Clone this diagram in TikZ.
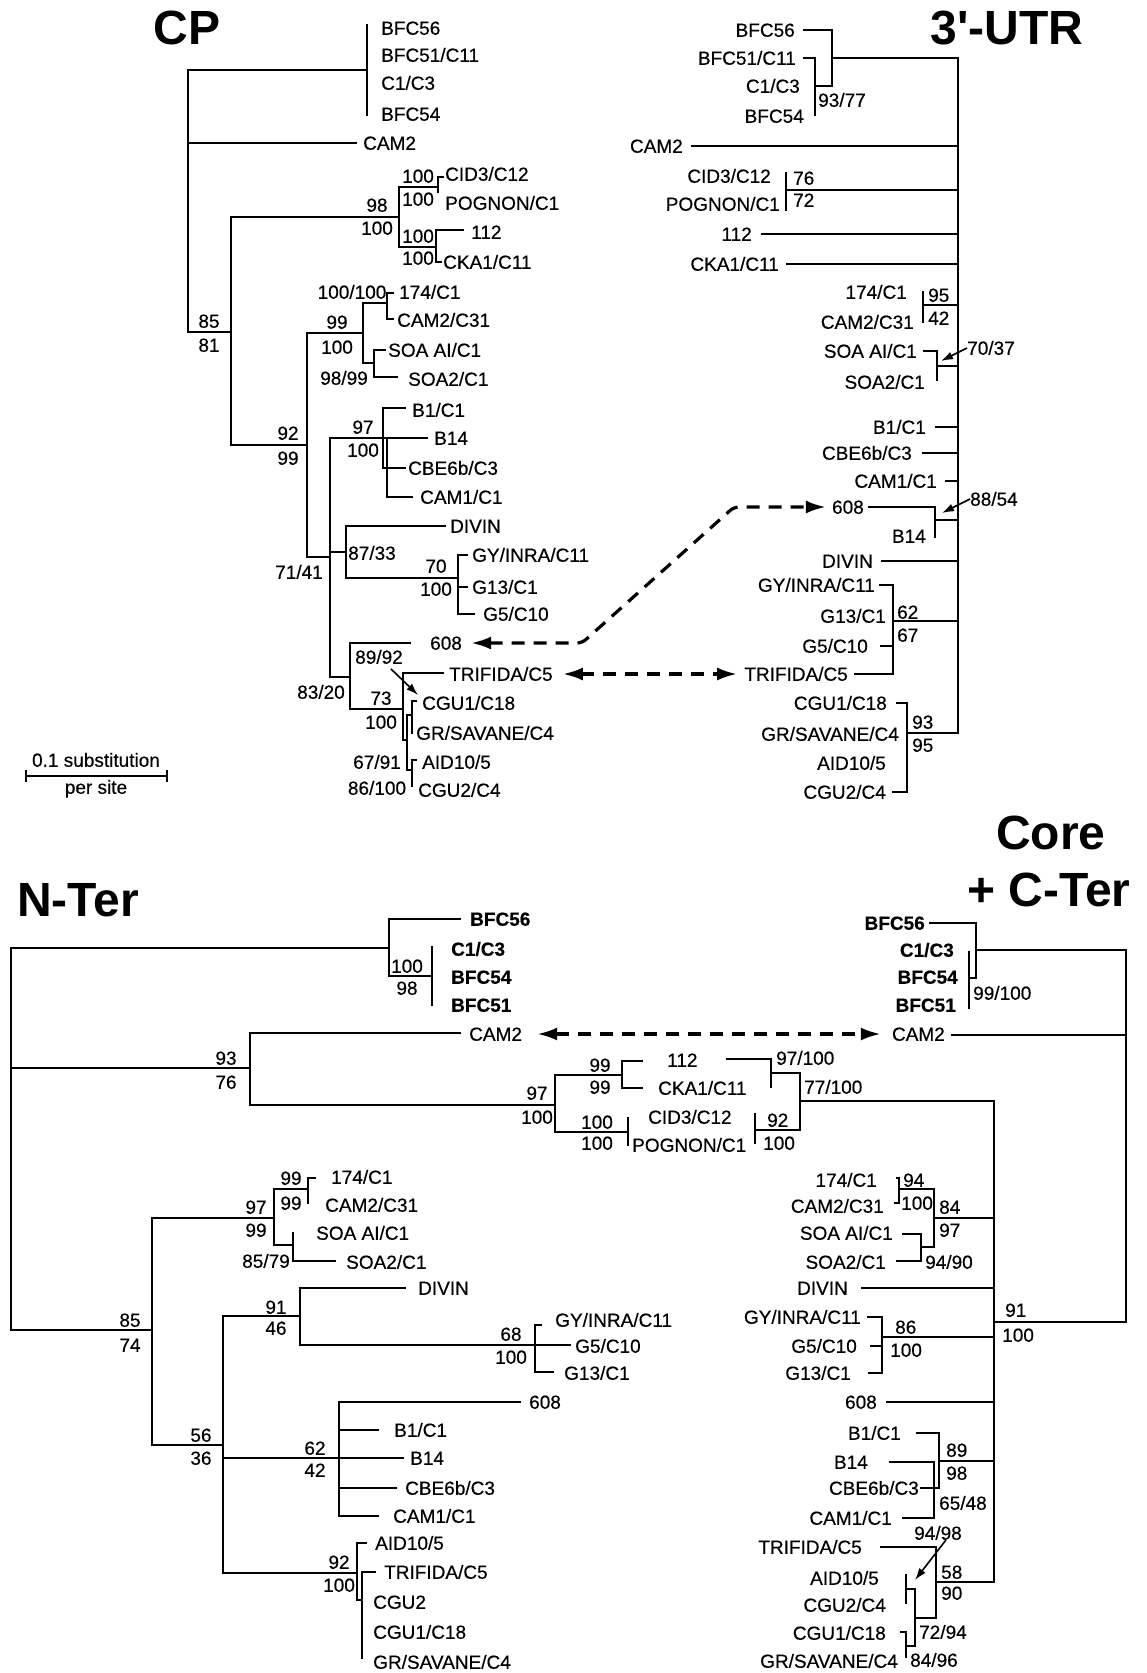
\documentclass[tikz,border=0pt]{standalone}
\usepackage{fontspec}
\setmainfont{Liberation Sans}
\newfontfamily\escaneo{Liberation Sans}[FakeBold=0.4]
\usetikzlibrary{arrows.meta}
\colorlet{colLinea}{black}
\newcommand{\fuenteTaxon}{\escaneo\fontsize{19}{21}\selectfont}
\newcommand{\fuenteTitulo}{\fontsize{48}{52}\selectfont\bfseries}
\tikzset{
  rama/.style={draw=colLinea, line width=2.5pt, line cap=rect},
  taxon/.style={font=\fuenteTaxon, inner sep=0pt, text height=13.5pt, text depth=0pt},
  taxonIzq/.style={taxon, anchor=west},
  taxonDer/.style={taxon, anchor=east},
  negrita/.style={font=\fuenteTaxon\bfseries},
  soporte/.style={taxon},
  soporteIzq/.style={taxon, anchor=west},
  titulo/.style={font=\fuenteTitulo, inner sep=0pt},
  flechaDoble/.style={{Latex[length=20pt,width=13pt]}-{Latex[length=20pt,width=13pt]},
    line width=3.2pt, dash pattern=on 13pt off 9pt, rounded corners=5pt},
  flechaFina/.style={-{Latex[length=12pt,width=8pt]}, line width=1.6pt},
}

\begin{document}
\begin{tikzpicture}[x=1pt, y=-1pt]
  \fill[white] (0,0) rectangle (1146,1673);
  \useasboundingbox (0,0) rectangle (1146,1673);

  % ---------------- CP
  \node[titulo] (tCP) at (187,28) {CP};
  \draw[rama] (367,25) -- (367,115);
  \draw[rama] (367,70) -- (188,70) -- (188,332) -- (231,332);
  \draw[rama] (188,143) -- (356,143);
  \draw[rama] (231,217) -- (231,445);
  \draw[rama] (231,217) -- (399,217);
  \draw[rama] (399,187) -- (399,247);
  \draw[rama] (399,187) -- (438,187);
  \draw[rama] (443,177) -- (438,177) -- (438,192);
  \draw[rama] (399,247) -- (436,247);
  \draw[rama] (463,230) -- (436,230) -- (436,262) -- (441,262);
  \draw[rama] (231,445) -- (307,445);
  \draw[rama] (307,333) -- (307,557) -- (330,557);
  \draw[rama] (307,333) -- (363,333);
  \draw[rama] (363,303) -- (363,363);
  \draw[rama] (363,303) -- (387,303);
  \draw[rama] (393,293) -- (387,293) -- (387,319) -- (393,319);
  \draw[rama] (363,363) -- (374,363);
  \draw[rama] (385,350) -- (374,350) -- (374,377) -- (397,377);
  \draw[rama] (330,438) -- (330,677);
  \draw[rama] (330,438) -- (427,438);
  \draw[rama] (405,408) -- (383,408) -- (383,468) -- (405,468);
  \draw[rama] (387,438) -- (387,497) -- (412,497);
  \draw[rama] (330,552) -- (346,552);
  \draw[rama] (445,526) -- (346,526) -- (346,578) -- (458,578);
  \draw[rama] (467,555) -- (458,555) -- (458,614) -- (474,614);
  \draw[rama] (458,587) -- (467,587);
  \draw[rama] (330,677) -- (350,677);
  \draw[rama] (410,643) -- (350,643) -- (350,709) -- (403,709);
  \draw[rama] (443,673) -- (403,673) -- (403,740) -- (407,740);
  \draw[rama] (412,715) -- (407,715) -- (407,770) -- (412,770);
  \draw[rama] (416,701) -- (412,701) -- (412,733);
  \draw[rama] (416,760) -- (412,760) -- (412,786);
  \foreach \x/\y/\n/\t in {381/28/cpA/BFC56, 381/55/cpB/{BFC51/C11}, 381/83/cpC/{C1/C3},
      381/114/cpD/BFC54, 363/143/cpE/CAM2, 445/174/cpF/{CID3/C12}, 445/203/cpG/{POGNON/C1},
      471/232/cpH/112, 443/262/cpI/{CKA1/C11}, 399/292/cpJ/{174/C1}, 397/320/cpK/{CAM2/C31},
      388/350/cpL/{SOA AI/C1}, 408/379/cpM/{SOA2/C1}, 412/410/cpN/{B1/C1}, 434/438/cpO/B14,
      408/468/cpP/{CBE6b/C3}, 420/497/cpQ/{CAM1/C1}, 450/526/cpR/DIVIN, 472/555/cpS/{GY/INRA/C11},
      472/587/cpT/{G13/C1}, 483/614/cpU/{G5/C10}, 430/643/cp608/608, 449/674/cpTri/{TRIFIDA/C5},
      422/703/cpV/{CGU1/C18}, 416/733/cpW/{GR/SAVANE/C4}, 422/762/cpX/{AID10/5}, 418/790/cpY/{CGU2/C4}}
    \node[taxonIzq] (\n) at (\x,\y) {\t};
  \foreach \x/\y/\t [count=\i] in {209/321/85, 209/345/81, 377/205/98, 377/228/100, 418/176/100,
      418/199/100, 418/236/100, 418/258/100, 352/292/{100/100}, 337/322/99, 337/347/100,
      344/378/{98/99}, 288/433/92, 288/458/99, 363/427/97, 363/450/100, 299/572/{71/41},
      372/553/{87/33}, 436/566/70, 436/589/100, 321/692/{83/20}, 379/657/{89/92}, 381/698/73,
      381/722/100, 377/762/{67/91}, 377/788/{86/100}}
    \node[soporte] (cpS\i) at (\x,\y) {\t};
  \draw[flechaFina] ([xshift=-12pt,yshift=-5pt]cpS22.south east) -- (418,695);
  % scale bar
  \draw[line width=1.8pt] (26,770) -- (26,782) (26,776) -- (167,776) (167,770) -- (167,782);
  \node[taxon] (escalaA) at (96,760) {0.1 substitution};
  \node[taxon] (escalaB) at (96,787) {per site};

  % ---------------- 3'-UTR
  \node[titulo] (tUTR) at (1007,28) {3\textquotesingle-UTR};
  \draw[rama] (958,58) -- (958,733);
  \draw[rama] (958,58) -- (832,58);
  \draw[rama] (804,30) -- (832,30) -- (832,86) -- (815,86);
  \draw[rama] (804,58) -- (815,58) -- (815,115);
  \draw[rama] (958,146) -- (692,146);
  \draw[rama] (958,190) -- (786,190);
  \draw[rama] (786,173) -- (786,210);
  \draw[rama] (958,234) -- (762,234);
  \draw[rama] (958,264) -- (787,264);
  \draw[rama] (958,305) -- (923,305);
  \draw[rama] (923,292) -- (923,322);
  \draw[rama] (958,366) -- (937,366);
  \draw[rama] (924,351) -- (937,351) -- (937,380);
  \draw[rama] (958,427) -- (936,427);
  \draw[rama] (958,453) -- (923,453);
  \draw[rama] (958,481) -- (946,481);
  \draw[rama] (958,520) -- (935,520);
  \draw[rama] (869,507) -- (935,507) -- (935,537);
  \draw[rama] (958,561) -- (882,561);
  \draw[rama] (958,621) -- (893,621);
  \draw[rama] (880,585) -- (893,585) -- (893,674) -- (855,674);
  \draw[rama] (881,646) -- (893,646);
  \draw[rama] (958,733) -- (907,733);
  \draw[rama] (897,703) -- (907,703) -- (907,792) -- (893,792);
  \foreach \x/\y/\n/\t in {795/30/utA/BFC56, 796/58/utB/{BFC51/C11}, 800/86/utC/{C1/C3},
      804/116/utD/BFC54, 683/146/utE/CAM2, 771/176/utF/{CID3/C12}, 780/204/utG/{POGNON/C1},
      752/234/utH/112, 779/264/utI/{CKA1/C11}, 907/292/utJ/{174/C1}, 914/322/utK/{CAM2/C31},
      917/351/utL/{SOA AI/C1}, 925/382/utM/{SOA2/C1}, 926/427/utN/{B1/C1}, 912/453/utO/{CBE6b/C3},
      937/481/utP/{CAM1/C1}, 864/507/ut608/608, 926/536/utQ/B14, 873/561/utR/DIVIN,
      875/585/utS/{GY/INRA/C11}, 886/616/utT/{G13/C1}, 868/646/utU/{G5/C10},
      848/674/utTri/{TRIFIDA/C5}, 887/703/utV/{CGU1/C18}, 899/734/utW/{GR/SAVANE/C4},
      886/763/utX/{AID10/5}, 886/792/utY/{CGU2/C4}}
    \node[taxonDer] (\n) at (\x,\y) {\t};
  \foreach \x/\y/\t [count=\i] in {818/100/{93/77}, 793/178/76, 793/200/72, 928/295/95,
      928/318/42, 967/348/{70/37}, 970/499/{88/54}, 897/612/62, 897/635/67, 912/722/93, 912/745/95}
    \node[soporteIzq] (utS\i) at (\x,\y) {\t};
  \draw[flechaFina] (utS6.west) -- (941,361);
  \draw[flechaFina] (utS7.west) -- (942,513);

  % links between CP and 3'-UTR
  \draw[flechaDoble] ([xshift=9pt]cp608.east) -- (582,643) -- (734,507) -- ([xshift=-6pt]ut608.west);
  \draw[flechaDoble] ([xshift=10pt]cpTri.east) -- ([xshift=-7pt]utTri.west);

  % ---------------- N-Ter
  \node[titulo] (tNT) at (78,900) {N-Ter};
  \draw[rama] (389,948) -- (11,948) -- (11,1330) -- (152,1330);
  \draw[rama] (11,1068) -- (250,1068);
  \draw[rama] (460,919) -- (389,919) -- (389,976) -- (432,976);
  \draw[rama] (432,947) -- (432,1005);
  \draw[rama] (460,1033) -- (250,1033) -- (250,1105) -- (555,1105);
  \draw[rama] (555,1075) -- (555,1132);
  \draw[rama] (555,1075) -- (622,1075);
  \draw[rama] (642,1061) -- (622,1061) -- (622,1088) -- (642,1088);
  \draw[rama] (555,1132) -- (628,1132);
  \draw[rama] (628,1118) -- (628,1145);
  \draw[rama] (152,1218) -- (152,1445) -- (223,1445);
  \draw[rama] (152,1218) -- (274,1218);
  \draw[rama] (274,1189) -- (274,1245) -- (293,1245);
  \draw[rama] (274,1189) -- (308,1189);
  \draw[rama] (315,1178) -- (308,1178) -- (308,1203);
  \draw[rama] (293,1233) -- (293,1261) -- (335,1261);
  \draw[rama] (223,1316) -- (223,1573);
  \draw[rama] (223,1316) -- (300,1316);
  \draw[rama] (405,1288) -- (300,1288) -- (300,1345) -- (570,1345);
  \draw[rama] (541,1325) -- (535,1325) -- (535,1372) -- (553,1372);
  \draw[rama] (223,1458) -- (403,1458);
  \draw[rama] (520,1402) -- (339,1402) -- (339,1516) -- (378,1516);
  \draw[rama] (339,1430) -- (378,1430);
  \draw[rama] (339,1488) -- (396,1488);
  \draw[rama] (223,1573) -- (357,1573);
  \draw[rama] (366,1543) -- (357,1543) -- (357,1600) -- (362,1600);
  \draw[rama] (375,1572) -- (362,1572) -- (362,1658);
  \foreach \x/\y/\n/\t in {470/919/ntA/BFC56, 451/949/ntB/{C1/C3}, 451/977/ntC/BFC54, 451/1005/ntD/BFC51}
    \node[taxonIzq, negrita] (\n) at (\x,\y) {\t};
  \foreach \x/\y/\n/\t in {469/1034/ntE/CAM2, 667/1060/ntF/112, 658/1088/ntG/{CKA1/C11},
      648/1117/ntH/{CID3/C12}, 632/1145/ntI/{POGNON/C1}, 331/1177/ntJ/{174/C1},
      325/1205/ntK/{CAM2/C31}, 316/1233/ntL/{SOA AI/C1}, 346/1262/ntM/{SOA2/C1},
      418/1288/ntN/DIVIN, 555/1320/ntO/{GY/INRA/C11}, 575/1346/ntP/{G5/C10}, 564/1373/ntQ/{G13/C1},
      529/1402/ntR/608, 394/1430/ntS/{B1/C1}, 410/1458/ntT/B14, 405/1488/ntU/{CBE6b/C3},
      393/1516/ntV/{CAM1/C1}, 375/1543/ntW/{AID10/5}, 384/1572/ntX/{TRIFIDA/C5},
      373/1602/ntY/CGU2, 373/1632/ntZ/{CGU1/C18}, 373/1662/ntAA/{GR/SAVANE/C4}}
    \node[taxonIzq] (\n) at (\x,\y) {\t};
  \foreach \x/\y/\t [count=\i] in {407/966/100, 407/988/98, 226/1058/93, 226/1082/76,
      537/1093/97, 537/1117/100, 600/1065/99, 600/1087/99, 597/1122/100, 597/1143/100,
      291/1178/99, 291/1203/99, 256/1207/97, 256/1230/99, 266/1261/{85/79}, 130/1320/85,
      130/1345/74, 201/1435/56, 201/1458/36, 276/1307/91, 276/1328/46, 511/1334/68,
      511/1357/100, 315/1448/62, 315/1470/42, 339/1562/92, 339/1585/100}
    \node[soporte] (ntS\i) at (\x,\y) {\t};

  % ---------------- Core + C-Ter
  \node[titulo] (tCoreA) at (1051,833) {Core};
  \node[titulo] (tCoreB) at (1049,890) {+ C-Ter};
  \draw[rama] (1126,950) -- (1126,1322) -- (994,1322);
  \draw[rama] (1126,950) -- (976,950);
  \draw[rama] (930,923) -- (976,923) -- (976,978) -- (969,978);
  \draw[rama] (969,952) -- (969,1008);
  \draw[rama] (1126,1035) -- (952,1035);
  \draw[rama] (727,1059) -- (771,1059) -- (771,1087);
  \draw[rama] (771,1073) -- (800,1073) -- (800,1130) -- (755,1130);
  \draw[rama] (755,1114) -- (755,1143);
  \draw[rama] (800,1101) -- (994,1101) -- (994,1582);
  \draw[rama] (897,1178) -- (899,1178) -- (899,1203) -- (895,1203);
  \draw[rama] (899,1189) -- (934,1189) -- (934,1247) -- (921,1247);
  \draw[rama] (934,1218) -- (994,1218);
  \draw[rama] (903,1234) -- (921,1234) -- (921,1261) -- (897,1261);
  \draw[rama] (862,1288) -- (994,1288);
  \draw[rama] (868,1317) -- (882,1317) -- (882,1373) -- (869,1373);
  \draw[rama] (871,1346) -- (882,1346);
  \draw[rama] (882,1337) -- (994,1337);
  \draw[rama] (887,1402) -- (994,1402);
  \draw[rama] (917,1433) -- (939,1433) -- (939,1488) -- (921,1488);
  \draw[rama] (890,1462) -- (934,1462) -- (934,1518) -- (903,1518);
  \draw[rama] (939,1461) -- (994,1461);
  \draw[rama] (881,1547) -- (936,1547) -- (936,1618) -- (915,1618);
  \draw[rama] (936,1582) -- (994,1582);
  \draw[rama] (906,1589) -- (915,1589) -- (915,1646) -- (906,1646);
  \draw[rama] (906,1575) -- (906,1603);
  \draw[rama] (901,1632) -- (906,1632) -- (906,1657);
  \foreach \x/\y/\n/\t in {925/923/coA/BFC56, 954/950/coB/{C1/C3}, 958/977/coC/BFC54, 956/1005/coD/BFC51}
    \node[taxonDer, negrita] (\n) at (\x,\y) {\t};
  \foreach \x/\y/\n/\t in {945/1034/coE/CAM2, 877/1180/coF/{174/C1}, 884/1206/coG/{CAM2/C31},
      893/1233/coH/{SOA AI/C1}, 886/1262/coI/{SOA2/C1}, 848/1288/coJ/DIVIN,
      861/1317/coK/{GY/INRA/C11}, 857/1346/coL/{G5/C10}, 851/1373/coM/{G13/C1}, 877/1402/coN/608,
      901/1433/coO/{B1/C1}, 868/1462/coP/B14, 919/1488/coQ/{CBE6b/C3}, 892/1518/coR/{CAM1/C1},
      862/1547/coS/{TRIFIDA/C5}, 879/1578/coT/{AID10/5}, 886/1605/coU/{CGU2/C4},
      886/1633/coV/{CGU1/C18}, 898/1661/coW/{GR/SAVANE/C4}}
    \node[taxonDer] (\n) at (\x,\y) {\t};
  \foreach \x/\y/\t [count=\i] in {973/993/{99/100}, 776/1058/{97/100}, 804/1087/{77/100},
      767/1120/92, 763/1143/100, 903/1180/94, 901/1203/100, 939/1207/84, 939/1230/97,
      925/1262/{94/90}, 1005/1310/91, 1002/1335/100, 895/1327/86, 890/1350/100, 946/1450/89,
      946/1473/98, 939/1503/{65/48}, 914/1533/{94/98}, 941/1572/58, 941/1593/90,
      919/1632/{72/94}, 910/1660/{84/96}}
    \node[soporteIzq] (coS\i) at (\x,\y) {\t};
  \draw[flechaFina] ([xshift=8pt]coS18.south) -- (915,1580);

  % link between N-Ter and Core
  \draw[flechaDoble] ([xshift=15pt]ntE.east) -- ([xshift=-11pt]coE.west);
\end{tikzpicture}
\end{document}
